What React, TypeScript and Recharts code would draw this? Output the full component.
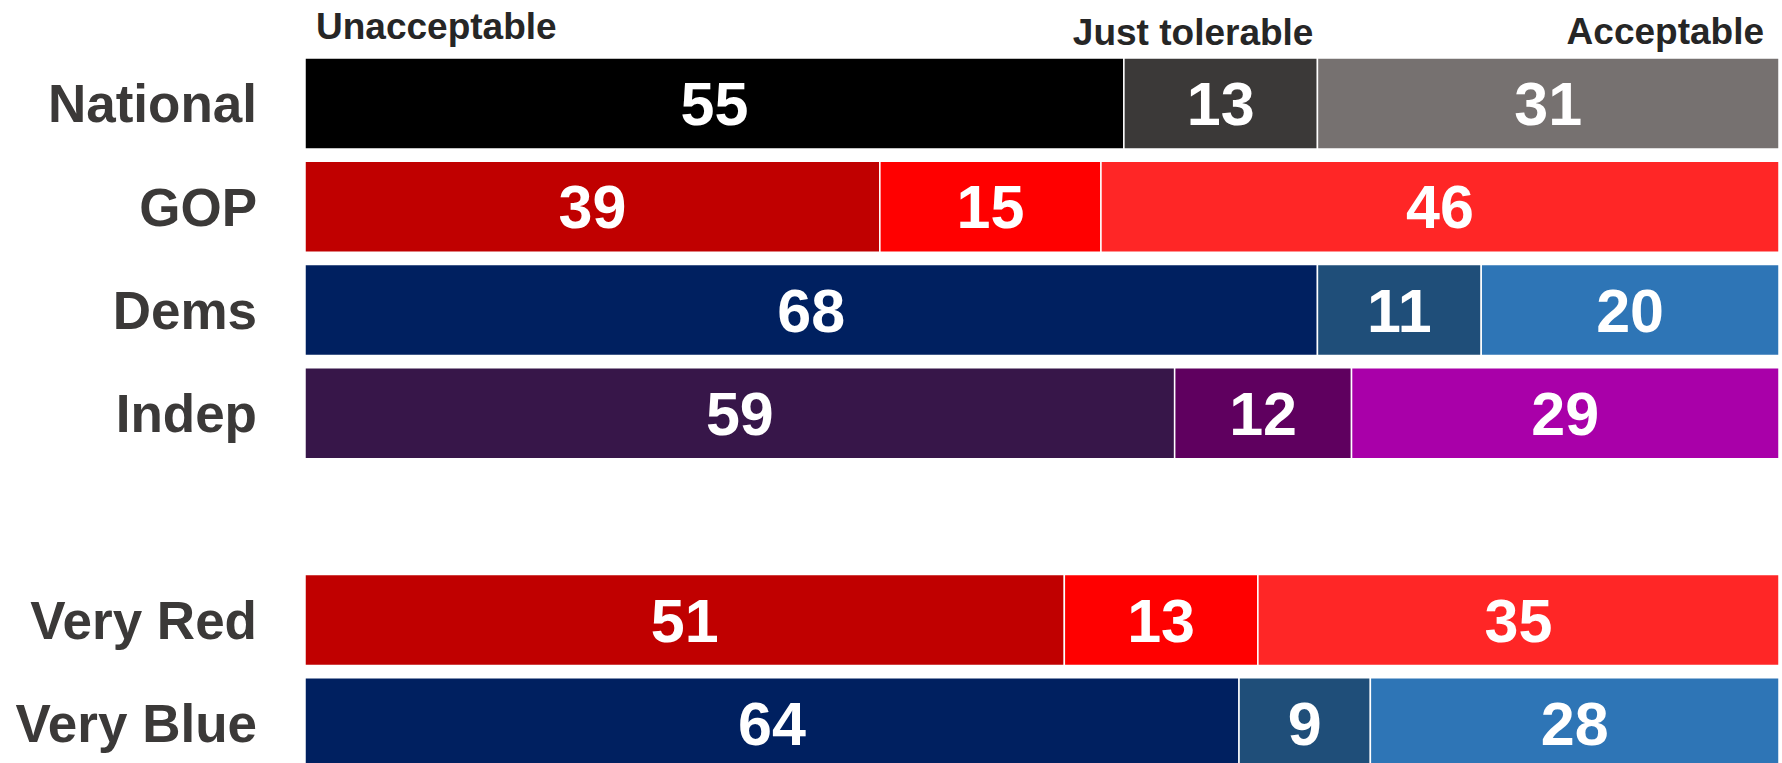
import { BarChart, Bar, XAxis, YAxis, Cell, LabelList } from 'recharts';

const categories = ['National', 'GOP', 'Dems', 'Indep', '', 'Very Red', 'Very Blue'];
const unacceptable = [55, 39, 68, 59, null, 51, 64];
const justTolerable = [13, 15, 11, 12, null, 13, 9];
const acceptable = [31, 46, 20, 29, null, 35, 28];
const seriesNames = ['Unacceptable', 'Just tolerable', 'Acceptable'];

const unaccColors = ['#000000', '#c00000', '#002060', '#371649', '#ffffff', '#c00000', '#002060'];
const tolColors = ['#3b3938', '#ff0000', '#1f4e79', '#5f005f', '#ffffff', '#ff0000', '#1f4e79'];
const accColors = ['#767170', '#ff2626', '#2e75b6', '#a900a9', '#ffffff', '#ff2626', '#2e75b6'];

const data = categories.map((name, i) => ({
  name,
  unacc: unacceptable[i],
  tol: justTolerable[i],
  acc: acceptable[i],
}));

const FONT = '"Liberation Sans", Arial, sans-serif';

function CategoryTick({ x, y, payload }: any) {
  return (
    <text
      x={x}
      y={y}
      dy="0.355em"
      textAnchor="end"
      fill="#3b3938"
      fontFamily={FONT}
      fontWeight="bold"
      fontSize={53}
    >
      {payload.value}
    </text>
  );
}

const valueLabel = (props: any) => {
  const { x, y, width, height, value } = props;
  if (value == null) return null;
  return (
    <text
      x={x + width / 2}
      y={y + height / 2}
      dy="0.355em"
      textAnchor="middle"
      fill="#ffffff"
      fontFamily={FONT}
      fontWeight="bold"
      fontSize={61}
    >
      {value}
    </text>
  );
};

// series names sit above the first row, tied to its segments
const headerLabel = (series: number) => (props: any) => {
  const { x, y, width, index } = props;
  if (index !== 0) return null;
  const common = {
    fill: '#262626',
    fontFamily: FONT,
    fontWeight: 'bold',
    fontSize: 37,
  };
  if (series === 0) {
    return (
      <text x={x + 11} y={y - 19} textAnchor="start" {...common}>
        {seriesNames[0]}
      </text>
    );
  }
  if (series === 1) {
    return (
      <text x={x + width - 4} y={y - 13} textAnchor="end" {...common}>
        {seriesNames[1]}
      </text>
    );
  }
  return (
    <text x={x + width - 15} y={y - 14} textAnchor="end" {...common}>
      {seriesNames[2]}
    </text>
  );
};

export default function App() {
  return (
    <div
      style={{
        position: 'absolute',
        left: 0,
        top: 0,
        width: 1782,
        height: 763,
        overflow: 'hidden',
        background: '#ffffff',
      }}
    >
      <BarChart
        width={1782}
        height={775}
        data={data}
        layout="vertical"
        stackOffset="expand"
        margin={{ top: 52, right: 3, bottom: 0, left: 0 }}
      >
        <XAxis type="number" domain={[0, 1]} hide />
        <YAxis
          type="category"
          dataKey="name"
          width={305}
          tickLine={false}
          axisLine={false}
          tickSize={0}
          tickMargin={48}
          tick={<CategoryTick />}
          interval={0}
        />
        <Bar dataKey="unacc" stackId="a" barSize={91} stroke="#ffffff" strokeWidth={1.5} isAnimationActive={false}>
          {data.map((d, i) => (
            <Cell key={i} fill={unaccColors[i]} />
          ))}
          <LabelList dataKey="unacc" content={valueLabel} />
          <LabelList dataKey="unacc" content={headerLabel(0)} />
        </Bar>
        <Bar dataKey="tol" stackId="a" barSize={91} stroke="#ffffff" strokeWidth={1.5} isAnimationActive={false}>
          {data.map((d, i) => (
            <Cell key={i} fill={tolColors[i]} />
          ))}
          <LabelList dataKey="tol" content={valueLabel} />
          <LabelList dataKey="tol" content={headerLabel(1)} />
        </Bar>
        <Bar dataKey="acc" stackId="a" barSize={91} stroke="#ffffff" strokeWidth={1.5} isAnimationActive={false}>
          {data.map((d, i) => (
            <Cell key={i} fill={accColors[i]} />
          ))}
          <LabelList dataKey="acc" content={valueLabel} />
          <LabelList dataKey="acc" content={headerLabel(2)} />
        </Bar>
      </BarChart>
    </div>
  );
}
